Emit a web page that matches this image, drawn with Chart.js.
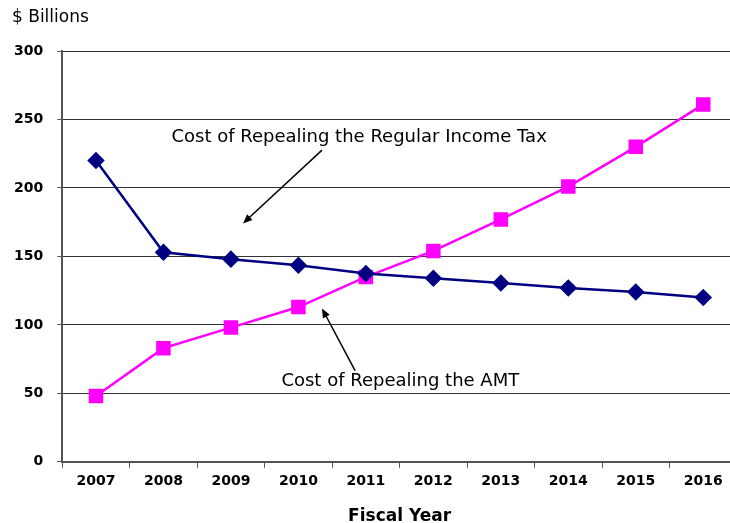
<!DOCTYPE html>
<html>
<head>
<meta charset="utf-8">
<script src="https://cdn.jsdelivr.net/npm/chart.js@4"></script>
<style>
    html, body { margin: 0; padding: 0; overflow: hidden; background: #fff; }
    #wrap { width: 730px; height: 523px; overflow: hidden; }
</style>
</head>
<body>
<div id="wrap"><canvas id="taxChart" width="740" height="527"></canvas></div>
<script>
// Data
const years = ['2007', '2008', '2009', '2010', '2011', '2012', '2013', '2014', '2015', '2016'];
const regularTax = [220, 153, 148, 143.5, 137.5, 134, 130.5, 127, 124, 120];
const amtCost = [48, 83, 98, 113, 135, 154, 177, 201, 230, 261];
const yTicks = [0, 50, 100, 150, 200, 250, 300];

// Annotation positions in data units (x = category index, y = value)
const notes = [
    { text: 'Cost of Repealing the Regular Income Tax', x: 3.9, y: 237, from: [3.35, 227.6], to: [2.18, 174.1] },
    { text: 'Cost of Repealing the AMT', x: 4.51, y: 58.5, from: [3.84, 66.6], to: [3.35, 112] }
];

const annotationPlugin = {
    id: 'notes',
    afterDatasetsDraw(chart) {
        const c = chart.ctx;
        const xs = chart.scales.x;
        const ys = chart.scales.y;
        c.save();
        c.fillStyle = '#000';
        c.strokeStyle = '#000';
        // unit label above the y axis
        c.font = '17px "DejaVu Sans"';
        c.textAlign = 'left';
        c.textBaseline = 'middle';
        c.fillText('$ Billions', 12, 18);

        c.font = '18px "DejaVu Sans"';
        c.textAlign = 'center';
        notes.forEach(n => {
            c.fillText(n.text, xs.getPixelForValue(n.x), ys.getPixelForValue(n.y));
            const x1 = xs.getPixelForValue(n.from[0]), y1 = ys.getPixelForValue(n.from[1]);
            const x2 = xs.getPixelForValue(n.to[0]), y2 = ys.getPixelForValue(n.to[1]);
            const ang = Math.atan2(y2 - y1, x2 - x1);
            c.lineWidth = 1.5;
            c.beginPath();
            c.moveTo(x1, y1);
            c.lineTo(x2 - 6 * Math.cos(ang), y2 - 6 * Math.sin(ang));
            c.stroke();
            c.beginPath();
            c.moveTo(x2, y2);
            c.lineTo(x2 - 10 * Math.cos(ang - 0.4), y2 - 10 * Math.sin(ang - 0.4));
            c.lineTo(x2 - 10 * Math.cos(ang + 0.4), y2 - 10 * Math.sin(ang + 0.4));
            c.closePath();
            c.fill();
        });
        c.restore();
    }
};

const ctx = document.getElementById('taxChart').getContext('2d');
const taxChart = new Chart(ctx, {
    type: 'line',
    data: {
        labels: years,
        datasets: [{
            label: 'Cost of Repealing the Regular Income Tax',
            data: regularTax,
            borderColor: '#000080',
            backgroundColor: '#000080',
            borderWidth: 2.5,
            pointStyle: 'rectRot',
            pointRadius: 7,
            pointHoverRadius: 7,
            tension: 0
        }, {
            label: 'Cost of Repealing the AMT',
            data: amtCost,
            borderColor: '#FF00FF',
            backgroundColor: '#FF00FF',
            borderWidth: 2.5,
            pointStyle: 'rect',
            pointRadius: 8.5,
            pointHoverRadius: 8.5,
            tension: 0
        }]
    },
    options: {
        responsive: false,
        animation: false,
        layout: {
            autoPadding: false,
            padding: { left: 0, right: 3, top: 51, bottom: 0 }
        },
        scales: {
            y: {
                min: 0,
                max: 300,
                afterBuildTicks: (axis) => { axis.ticks = yTicks.map(v => ({ value: v })); },
                grid: {
                    color: '#333',
                    lineWidth: 1,
                    tickLength: 5,
                    tickColor: '#555'
                },
                border: { color: '#555', width: 2 },
                ticks: {
                    color: '#000',
                    padding: 14,
                    font: { family: 'DejaVu Sans', size: 14, weight: 'bold' }
                }
            },
            x: {
                offset: true,
                grid: {
                    offset: true,
                    drawOnChartArea: false,
                    tickLength: 6,
                    tickColor: '#555'
                },
                border: { color: '#555', width: 2 },
                ticks: {
                    color: '#000',
                    padding: 5,
                    maxRotation: 0,
                    font: { family: 'DejaVu Sans', size: 14, weight: 'bold' }
                },
                title: {
                    display: true,
                    text: 'Fiscal Year',
                    color: '#000',
                    padding: { top: 12, bottom: 0 },
                    font: { family: 'DejaVu Sans', size: 17, weight: 'bold' }
                }
            }
        },
        plugins: {
            legend: { display: false },
            tooltip: { enabled: false }
        }
    },
    plugins: [annotationPlugin]
});
</script>
</body>
</html>
